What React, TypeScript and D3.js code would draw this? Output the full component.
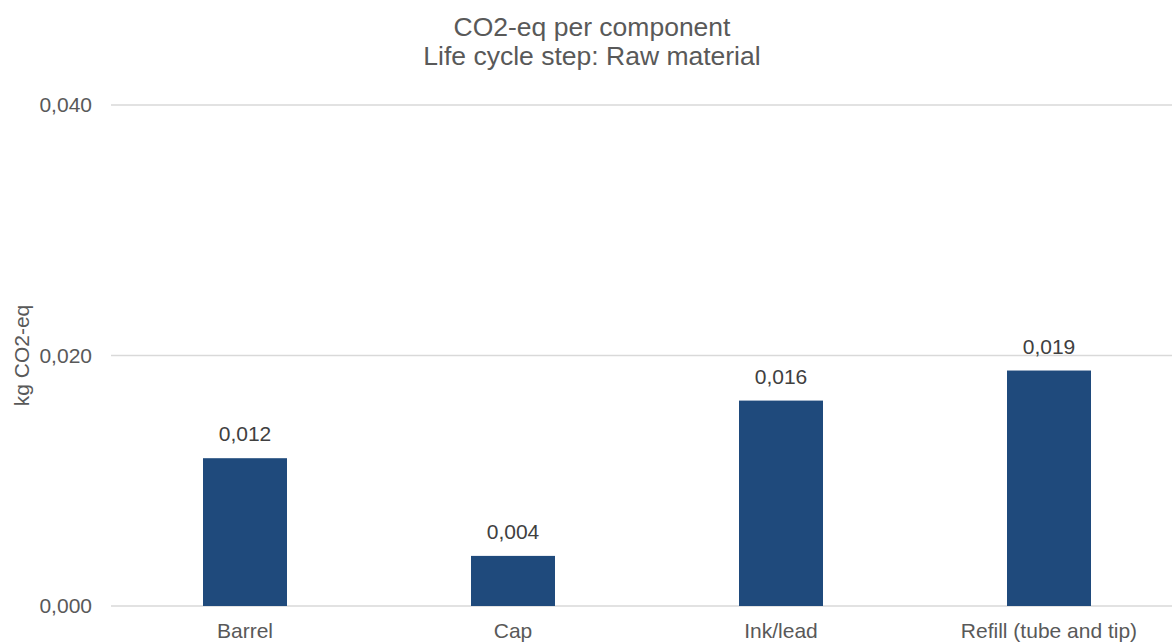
import React, { useEffect, useRef } from 'react'
import * as d3 from 'd3'

const categories = ['Barrel', 'Cap', 'Ink/lead', 'Refill (tube and tip)']
const co2Values = [0.0118, 0.004, 0.0164, 0.0188]
const yTicks = [0, 0.02, 0.04]
const titleLines = ['CO2-eq per component', 'Life cycle step: Raw material']
const yAxisTitle = 'kg CO2-eq'

const App: React.FC = () => {
  const ref = useRef<SVGSVGElement | null>(null)

  useEffect(() => {
    document.body.style.margin = '0'
    renderChart()
  }, [])

  const renderChart = () => {
    const width = 1172
    const height = 643
    const left = 111
    const right = 1183
    const top = 105
    const bottom = 606
    const textColor = '#595959'
    const font = '"Liberation Sans", Arial, sans-serif'

    const locale = d3.formatLocale({
      decimal: ',',
      thousands: '.',
      grouping: [3],
      currency: ['', ''],
    })
    const fmt = locale.format('.3f')

    const svg = d3.select(ref.current)
    svg.selectAll('*').remove()
    svg.attr('width', width).attr('height', height)

    const xScale = d3
      .scaleBand<string>()
      .domain(categories)
      .range([left, right])
      .paddingInner(0.6866)
      .paddingOuter(0.3433)

    const yScale = d3.scaleLinear().domain([0, 0.04]).range([bottom, top])

    // gridlines
    svg
      .append('g')
      .selectAll('line')
      .data(yTicks)
      .enter()
      .append('line')
      .attr('x1', left)
      .attr('x2', right)
      .attr('y1', (d) => yScale(d))
      .attr('y2', (d) => yScale(d))
      .attr('stroke', '#d9d9d9')
      .attr('stroke-width', 1.3)

    // y axis labels
    const yAxis = d3
      .axisLeft(yScale)
      .tickValues(yTicks)
      .tickFormat((d: any) => fmt(d))
      .tickSize(0)
      .tickPadding(19)

    const yG = svg
      .append('g')
      .attr('transform', `translate(${left}, 0)`)
      .call(yAxis)
    yG.select('.domain').remove()
    yG.selectAll('text')
      .attr('fill', textColor)
      .style('font-family', font)
      .style('font-size', '21px')

    // bars
    svg
      .append('g')
      .selectAll('rect')
      .data(co2Values)
      .enter()
      .append('rect')
      .attr('x', (d, i) => xScale(categories[i]) as number)
      .attr('width', xScale.bandwidth())
      .attr('y', (d) => yScale(d))
      .attr('height', (d) => yScale(0) - yScale(d))
      .attr('fill', '#1f4a7c')

    // data labels
    svg
      .append('g')
      .selectAll('text')
      .data(co2Values)
      .enter()
      .append('text')
      .attr('x', (d, i) => (xScale(categories[i]) as number) + xScale.bandwidth() / 2)
      .attr('y', (d) => yScale(d) - 17)
      .attr('text-anchor', 'middle')
      .attr('fill', '#404040')
      .style('font-family', font)
      .style('font-size', '21px')
      .text((d) => fmt(d))

    // category labels
    svg
      .append('g')
      .selectAll('text')
      .data(categories)
      .enter()
      .append('text')
      .attr('x', (d) => (xScale(d) as number) + xScale.bandwidth() / 2)
      .attr('y', 638)
      .attr('text-anchor', 'middle')
      .attr('fill', textColor)
      .style('font-family', font)
      .style('font-size', '21px')
      .text((d) => d)

    // title
    svg
      .append('g')
      .selectAll('text')
      .data(titleLines)
      .enter()
      .append('text')
      .attr('x', 592)
      .attr('y', (d, i) => 36 + i * 28.5)
      .attr('text-anchor', 'middle')
      .attr('fill', textColor)
      .style('font-family', font)
      .style('font-size', '26.5px')
      .text((d) => d)

    // y axis title
    svg
      .append('text')
      .attr('transform', `translate(29, ${(top + bottom) / 2}) rotate(-90)`)
      .attr('text-anchor', 'middle')
      .attr('fill', textColor)
      .style('font-family', font)
      .style('font-size', '21px')
      .text(yAxisTitle)
  }

  return <svg ref={ref} style={{ display: 'block' }} />
}

export default App
